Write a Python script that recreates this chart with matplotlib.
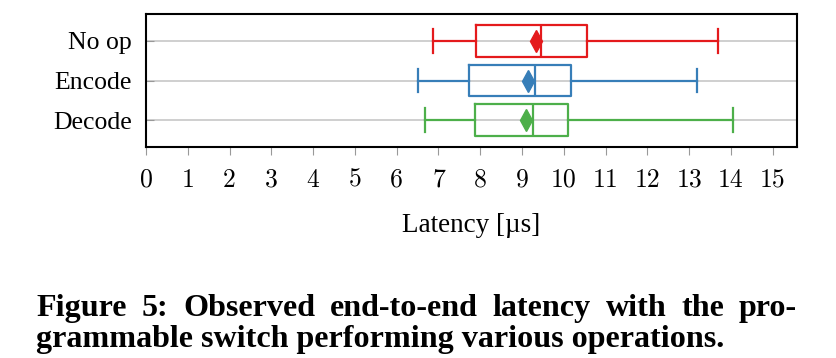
import matplotlib.pyplot as plt
import numpy as np

# Data (latency in microseconds)
labels = ["No op", "Encode", "Decode"]
whislo = [6.86, 6.52, 6.68]
q1 = [7.90, 7.72, 7.87]
med = [9.46, 9.30, 9.27]
q3 = [10.55, 10.18, 10.11]
whishi = [13.68, 13.18, 14.05]
means = [9.33, 9.15, 9.10]
colors = ["#e41a1c", "#377eb8", "#4daf4a"]

W, H = 836, 358
fig = plt.figure(figsize=(W / 100, H / 100), dpi=100)
ax = fig.add_axes([146 / W, 1 - 147 / H, (797 - 146) / W, (147 - 14) / H])

stats = []
for i in range(len(labels)):
    stats.append(dict(whislo=whislo[i], q1=q1[i], med=med[i], q3=q3[i],
                      whishi=whishi[i], mean=means[i], fliers=[]))

pos = np.arange(len(labels))
bp = ax.bxp(stats, positions=pos, vert=False, widths=0.8, capwidths=0.6,
            showmeans=True, showfliers=False, patch_artist=False)
for i, c in enumerate(colors):
    bp["boxes"][i].set(color=c, linewidth=1.6)
    bp["medians"][i].set(color=c, linewidth=1.6)
    for w in bp["whiskers"][2 * i:2 * i + 2]:
        w.set(color=c, linewidth=1.6)
    for cp in bp["caps"][2 * i:2 * i + 2]:
        cp.set(color=c, linewidth=1.6)
    bp["means"][i].set(marker="d", markersize=11, markerfacecolor=c,
                       markeredgecolor=c, zorder=5)

ax.set_xlim(0, 15.58)
ax.set_ylim(2.667, -0.667)
ax.set_xticks(range(16))
ax.set_yticks(pos)
ax.set_yticklabels(labels, fontfamily="Liberation Serif", fontsize=18.5)
ax.set_xticklabels([str(t) for t in range(16)], fontfamily="cmr10", fontsize=18.5)
ax.grid(axis="y", color="#cccccc", linewidth=1.3, zorder=0)
ax.set_axisbelow(True)
ax.tick_params(axis="x", direction="out", length=6, width=0.8, color="#999999", pad=9)
ax.tick_params(axis="y", direction="in", length=6, width=0.8, color="#999999", pad=10)
for s in ax.spines.values():
    s.set_linewidth(1.5)

fig.text(471 / W, 1 - 232 / H, "Latency [µs]", ha="center", va="baseline",
         fontfamily="Liberation Serif", fontsize=19.5)

# Caption, first line justified across the text width
line1 = ["Figure", "5:", "Observed", "end-to-end", "latency", "with", "the", "pro-"]
line2 = "grammable switch performing various operations."
cap_font = dict(fontfamily="Liberation Serif", fontweight="bold", fontsize=17)
x0, x1 = 36, 797
fig.canvas.draw()
r = fig.canvas.get_renderer()
t2 = fig.text(x0 / W, 1 - 347 / H, line2, ha="left", va="baseline", **cap_font)
w2 = t2.get_window_extent(r).width
scale = 690 / w2
cap_font["fontsize"] = 17 * scale
t2.set_fontsize(cap_font["fontsize"])
words = [fig.text(0, 1 - 316 / H, w, ha="left", va="baseline", **cap_font) for w in line1]
widths = [t.get_window_extent(r).width for t in words]
gap = (x1 - x0 - sum(widths)) / (len(words) - 1)
x = x0
for t, wd in zip(words, widths):
    t.set_x(x / W)
    x += wd + gap

fig.savefig("out.png", dpi=100)
